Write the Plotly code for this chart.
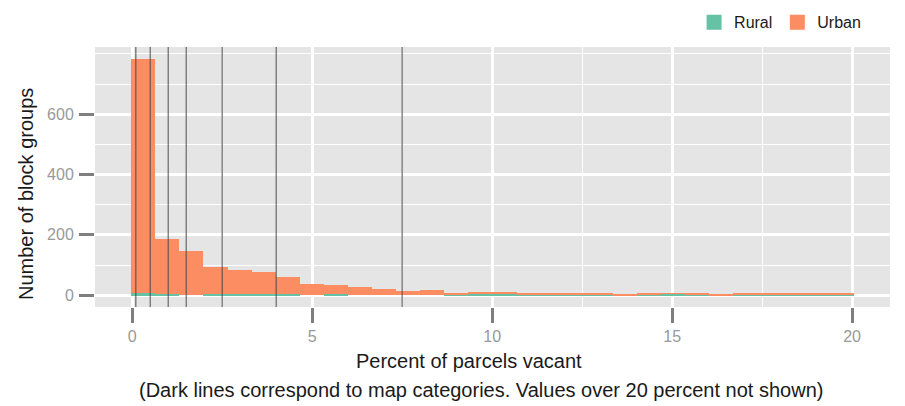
import numpy as np
import plotly.graph_objects as go

# histogram bins (percent of parcels vacant), 30 equal bins
bin_start = -0.03
bin_width = 0.6693
n_bins = 30

urban = [778, 184, 147, 91, 81, 75, 58, 38, 31, 28, 22, 15, 18, 5, 9,
         9, 5, 5, 5, 5, 4, 5, 2, 5, 2, 2, 2, 2, 2, 2]
rural = [6, 3, 0, 3, 3, 3, 3, 0, 3, 0, 0, 0, 0, 3, 3,
         3, 3, 3, 3, 3, 0, 3, 4, 3, 0, 3, 3, 3, 3, 3]

# map category breaks (dark lines)
breaks = [0.1, 0.5, 1, 1.5, 2.5, 4, 7.5]

x_ticks = [0, 5, 10, 15, 20]
y_ticks = [0, 200, 400, 600]

rural_col = '#66c2a5'
urban_col = '#fc8d62'
font = 'Liberation Sans, Arial, sans-serif'

centers = bin_start + bin_width * (np.arange(n_bins) + 0.5)

fig = go.Figure()
fig.add_trace(go.Bar(x=centers, y=rural, width=bin_width, marker_color=rural_col,
                     marker_line_width=0, showlegend=False, name='Rural'))
fig.add_trace(go.Bar(x=centers, y=urban, width=bin_width, marker_color=urban_col,
                     marker_line_width=0, showlegend=False, name='Urban'))

# legend keys
for name, col in [('Rural', rural_col), ('Urban', urban_col)]:
    fig.add_trace(go.Scatter(x=[None], y=[None], mode='markers', name=name,
                             marker=dict(symbol='square', size=15, color=col)))

for b in breaks:
    fig.add_shape(type='line', x0=b, x1=b, y0=0, y1=1, xref='x', yref='y domain',
                  line=dict(color='rgba(70,70,70,0.8)', width=1.2))

x_lo = bin_start - 0.05 * n_bins * bin_width
x_hi = bin_start + n_bins * bin_width + 0.05 * n_bins * bin_width
y_max = max(u + r for u, r in zip(urban, rural))

fig.update_layout(
    width=905, height=406,
    margin=dict(l=95, r=15, t=47, b=99, autoexpand=False),
    paper_bgcolor='white', plot_bgcolor='#e5e5e5',
    barmode='stack', bargap=0,
    font=dict(family=font, size=16, color='#1a1a1a'),
    legend=dict(orientation='h', xref='container', yref='container', traceorder='normal',
                x=0.957, xanchor='right', y=0.945, yanchor='middle',
                font=dict(size=16, color='#1a1a1a'), bgcolor='rgba(0,0,0,0)'),
)
fig.update_xaxes(range=[x_lo, x_hi], tickvals=x_ticks, showgrid=True, gridcolor='white',
                 gridwidth=3, zeroline=False, ticks='outside', ticklen=15, tickwidth=3,
                 tickcolor='#7f7f7f', tickfont=dict(size=16, color='#999999'),
                 minor=dict(dtick=2.5, tick0=0, showgrid=True, gridcolor='white', gridwidth=1.3),
                 showline=False, automargin=False)
fig.update_yaxes(range=[-0.05 * y_max, 1.05 * y_max], tickvals=y_ticks, showgrid=True,
                 gridcolor='white', gridwidth=3, zeroline=False, ticks='outside', ticklen=15,
                 tickwidth=3, tickcolor='#7f7f7f', tickfont=dict(size=16, color='#999999'),
                 minor=dict(dtick=100, tick0=0, showgrid=True, gridcolor='white', gridwidth=1.3),
                 showline=False, automargin=False, ticklabelstandoff=2)

# axis titles
fig.add_annotation(text='Percent of parcels vacant', xref='paper', yref='paper',
                   x=(469 - 95) / 795, y=(307 - 361) / 260, showarrow=False,
                   font=dict(size=20, color='#1a1a1a'), xanchor='center', yanchor='middle')
fig.add_annotation(text='(Dark lines correspond to map categories. Values over 20 percent not shown)',
                   xref='paper', yref='paper', x=(480.5 - 95) / 795, y=(307 - 389.5) / 260,
                   showarrow=False, font=dict(size=20, color='#1a1a1a'),
                   xanchor='center', yanchor='middle')
fig.add_annotation(text='Number of block groups', xref='paper', yref='paper',
                   x=(26 - 95) / 795, y=(307 - 194) / 260, textangle=-90, showarrow=False,
                   font=dict(size=20, color='#1a1a1a'), xanchor='center', yanchor='middle')

fig.write_html("out.html", config={'displayModeBar': False},
               post_script="document.body.style.margin='0';")
